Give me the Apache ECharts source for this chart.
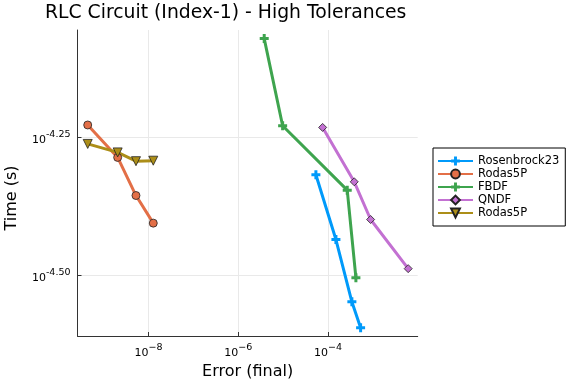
<!DOCTYPE html>
<html>
<head>
<meta charset="utf-8">
<script src="https://cdn.jsdelivr.net/npm/echarts@6/dist/echarts.min.js"></script>
<style>html,body{margin:0;padding:0;background:#fff}#c{width:576px;height:384px}</style>
</head>
<body>
<div id="c"></div>
<script>
// ---- data (error, time) ----
const rosenErr  = [5.37e-5, 1.50e-4, 3.40e-4, 5.32e-4];
const rosenTime = [4.81e-5, 3.67e-5, 2.83e-5, 2.54e-5];
const rodasErr  = [4.43e-10, 2.06e-9, 5.27e-9, 1.28e-8];
const rodasTime = [5.92e-5, 5.17e-5, 4.41e-5, 3.93e-5];
const fbdfErr   = [3.79e-6, 9.75e-6, 2.68e-4, 4.18e-4];
const fbdfTime  = [8.49e-5, 5.90e-5, 4.51e-5, 3.13e-5];
const qndfErr   = [7.59e-5, 3.84e-4, 8.89e-4, 6.11e-3];
const qndfTime  = [5.86e-5, 4.67e-5, 3.99e-5, 3.25e-5];
const rodas2Err  = [4.43e-10, 2.06e-9, 5.27e-9, 1.28e-8];
const rodas2Time = [5.47e-5, 5.28e-5, 5.09e-5, 5.10e-5];
const seriesNames = ['Rosenbrock23', 'Rodas5P', 'FBDF', 'QNDF', 'Rodas5P'];
// tick labels (exponents of 10)
const xTickExp = [-8, -6, -4];
const xTickLabels = ['\u22128', '\u22126', '\u22124'];
const yTickExp = [-4.25, -4.50];
const yTickLabels = ['-4.25', '-4.50'];

const xMin = Math.pow(10, -9.581), xMax = Math.pow(10, -2.002);
const yMin = Math.pow(10, -4.6102), yMax = Math.pow(10, -4.0555);

const xTicks = xTickExp.map(e => Math.pow(10, e));
const yTicks = yTickExp.map(e => Math.pow(10, e));
function nearestIdx(arr, v) {
  const lv = Math.log10(v); let best = 0, bd = Infinity;
  arr.forEach((e, i) => { const d = Math.abs(e - lv); if (d < bd) { bd = d; best = i; } });
  return bd < 0.01 ? best : -1;
}
// duplicate series names need distinct ids for the legend; a zero-width mark is appended and stripped on display
const uniqueNames = seriesNames.map((n, i) => seriesNames.indexOf(n) === i ? n : n + '\u200B');
const pairs = (a, b) => a.map((v, i) => [v, b[i]]);
const FONT = 'DejaVu Sans';
const plus = 'path://M3,0H6V3H9V6H6V9H3V6H0V3H3Z';
const tri = 'path://M0,0L10,0L5,9Z';
const rich = {
  b: { fontSize: 11, fontFamily: FONT, color: '#000', verticalAlign: 'bottom', lineHeight: 16 },
  e: { fontSize: 9.5, fontFamily: FONT, color: '#000', verticalAlign: 'top', lineHeight: 16 }
};
function mk(name, err, time, color, symbol, size, border) {
  return {
    name: name, type: 'line', data: pairs(err, time),
    lineStyle: { color: color, width: 3 },
    itemStyle: { color: color, borderColor: border ? '#222' : color, borderWidth: border ? 0.8 : 0 },
    symbol: symbol, symbolSize: size, showAllSymbol: true, animation: false, z: 3
  };
}
const chart = echarts.init(document.getElementById('c'), null, { renderer: 'canvas' });
chart.setOption({
  animation: false,
  backgroundColor: '#fff',
  title: {
    text: 'RLC Circuit (Index-1) - High Tolerances', left: 40, top: -1,
    textStyle: { fontFamily: FONT, fontSize: 18.8, fontWeight: 'normal', color: '#000' }
  },
  grid: { left: 77.5, right: 158.3, top: 30, bottom: 48, containLabel: false, outerBoundsMode: 'none' },
  legend: {
    orient: 'vertical', left: 433, top: 148,
    itemWidth: 35, itemHeight: 11, itemGap: 1,
    padding: [7, 6, 7, 4],
    borderColor: '#000', borderWidth: 1, backgroundColor: '#fff',
    textStyle: { fontFamily: FONT, fontSize: 11.5, color: '#000' },
    formatter: n => n.replace('\u200B', ''),
    data: uniqueNames.map(n => ({ name: n }))
  },
  xAxis: {
    type: 'log', logBase: 10, min: xMin, max: xMax,
    name: 'Error (final)', nameLocation: 'middle', nameGap: 25,
    nameTextStyle: { fontFamily: FONT, fontSize: 16, color: '#000' },
    axisLine: { show: true, onZero: false, lineStyle: { color: '#333', width: 1 } },
    axisTick: { show: true, inside: true, length: 4, customValues: xTicks, lineStyle: { color: '#333' } },
    axisLabel: {
      customValues: xTicks, margin: 7, rich: rich,
      formatter: v => { const i = nearestIdx(xTickExp, v); return i < 0 ? '' : '{b|10}{e|' + xTickLabels[i] + '}'; }
    },
    splitLine: { show: true, lineStyle: { color: '#e9e9e9', width: 1 } },
    minorTick: { show: false }
  },
  yAxis: {
    type: 'log', logBase: 10, min: yMin, max: yMax,
    name: 'Time (s)', nameLocation: 'middle', nameGap: 58,
    nameTextStyle: { fontFamily: FONT, fontSize: 16, color: '#000', padding: [0, 30, 0, 0] },
    axisLine: { show: true, onZero: false, lineStyle: { color: '#333', width: 1 } },
    axisTick: { show: true, inside: true, length: 4, customValues: yTicks, lineStyle: { color: '#333' } },
    axisLabel: {
      customValues: yTicks, margin: 7, rich: rich, align: 'right',
      formatter: v => { const i = nearestIdx(yTickExp, v); return i < 0 ? '' : '{b|10}{e|' + yTickLabels[i] + '}'; }
    },
    splitLine: { show: true, lineStyle: { color: '#e9e9e9', width: 1 } }
  },
  series: [
    mk(uniqueNames[0], rosenErr, rosenTime, '#009AFA', plus, 9, false),
    mk(uniqueNames[1], rodasErr, rodasTime, '#E36F47', 'circle', 8, true),
    mk(uniqueNames[2], fbdfErr, fbdfTime, '#3EA44E', plus, 9, false),
    mk(uniqueNames[3], qndfErr, qndfTime, '#C371D2', 'diamond', 8, true),
    mk(uniqueNames[4], rodas2Err, rodas2Time, '#AC8E18', tri, 9, true)
  ]
});
</script>
</body>
</html>
